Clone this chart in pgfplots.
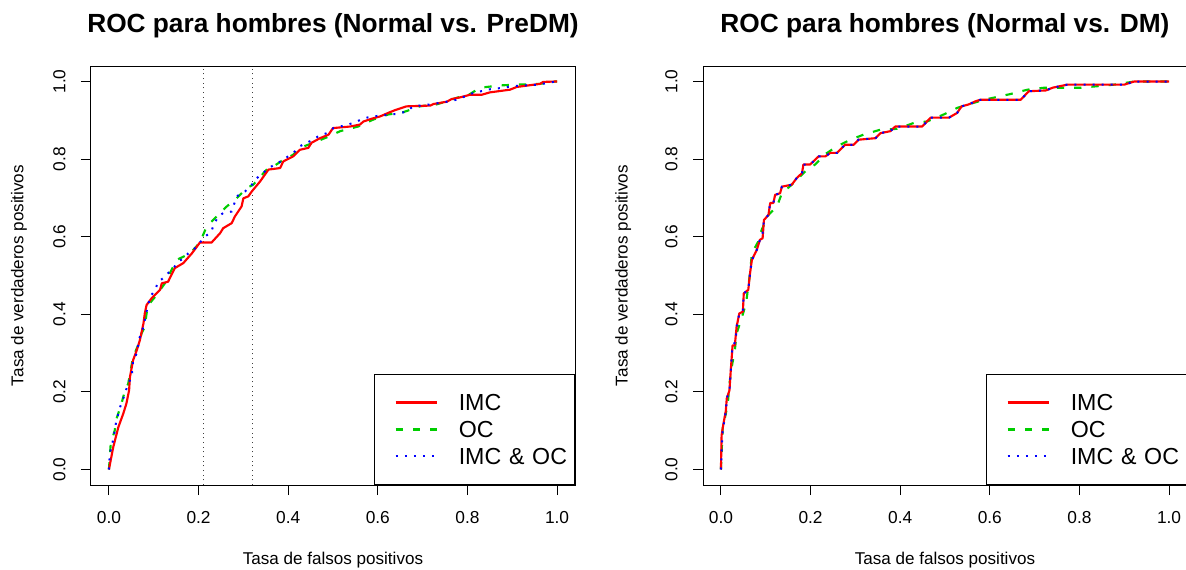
\documentclass[border=0pt]{standalone}
\usepackage{pgfplots}
\pgfplotsset{compat=1.18}
\usepackage{fontspec}
\setmainfont{Liberation Sans}
\definecolor{rred}{RGB}{255,0,0}
\definecolor{rgreen}{RGB}{0,205,0}
\definecolor{rblue}{RGB}{0,0,255}
\pgfplotsset{
 rocax/.style={
  scale only axis, width=363pt, height=314.25pt,
  xmin=-0.04,xmax=1.04,ymin=-0.04,ymax=1.04,
  xtick={0,0.2,0.4,0.6,0.8,1}, ytick={0,0.2,0.4,0.6,0.8,1},
  xticklabels={0.0,0.2,0.4,0.6,0.8,1.0}, yticklabels={0.0,0.2,0.4,0.6,0.8,1.0},
  tick align=outside, major tick length=7.5pt, xtick pos=left, ytick pos=left,
  xticklabel shift=9pt, yticklabel shift=8pt,
  axis line style={line width=0.75pt}, every tick/.style={black, line width=0.75pt},
  ticklabel style={font=\fontsize{13}{15}\selectfont},
  yticklabel style={rotate=90, anchor=south},
  label style={font=\fontsize{12.8}{15}\selectfont},
  title style={font=\bfseries\fontsize{19.7}{23}\selectfont, at={(axis description cs:0.5,1.078)}, anchor=center},
  xlabel style={at={(axis description cs:0.5,-0.179)}, anchor=center},
  xlabel={Tasa de falsos positivos},
  ylabel={Tasa de verdaderos positivos},
  legend cell align=left,
  legend style={at={(rel axis cs:1,0)}, anchor=south east, draw=black, line width=0.75pt, fill=white,
    font=\fontsize{17.4}{20}\selectfont, inner xsep=0pt, inner ysep=10.9pt, row sep=0pt, column sep=15.75pt,
    nodes={inner xsep=0pt, inner ysep=0pt, text height=16.36pt, text depth=3.9pt, text width=86.8pt}},
  legend image code/.code={\path (0pt,0pt); \draw[##1] (15pt,0pt) -- (45.75pt,0pt);},
 },
 imc/.style={rred, line width=1.6pt, line join=round},
 oc/.style={rgreen, line width=1.6pt, dash pattern=on 5.5pt off 7.5pt},
 both/.style={rblue, line width=1.5pt, dash pattern=on 1.5pt off 5.3pt},
}
\begin{document}
\begin{tikzpicture}
\useasboundingbox (0,0) rectangle (889.5pt,-426.75pt);
% ---------------- left panel
\begin{axis}[rocax, at={(68.25pt,-363.75pt)}, anchor=south west,
  title={ROC para hombres (Normal vs. PreDM)},
  ylabel style={at={(axis description cs:-0.149,0.5)}, anchor=center}]
\addplot[black!75, line width=0.6pt, dash pattern=on 0.75pt off 2.75pt, forget plot] coordinates {(0.21,-0.04)(0.21,1.04)};
\addplot[black!75, line width=0.6pt, dash pattern=on 0.75pt off 2.75pt, forget plot] coordinates {(0.32,-0.04)(0.32,1.04)};
\addplot[oc, forget plot] coordinates {(0,0)(0.004,0.066)(0.013,0.101)(0.017,0.131)(0.028,0.170)(0.036,0.204)(0.043,0.221)(0.047,0.247)(0.054,0.290)(0.065,0.320)(0.073,0.351)(0.080,0.368)(0.084,0.402)(0.088,0.424)(0.103,0.445)(0.125,0.480)(0.136,0.506)(0.151,0.540)(0.158,0.544)(0.181,0.557)(0.203,0.585)(0.218,0.626)(0.240,0.652)(0.263,0.678)(0.285,0.699)(0.307,0.725)(0.322,0.734)(0.352,0.773)(0.367,0.781)(0.389,0.798)(0.411,0.811)(0.426,0.829)(0.456,0.842)(0.486,0.856)(0.516,0.872)(0.556,0.884)(0.590,0.902)(0.623,0.915)(0.657,0.921)(0.694,0.936)(0.731,0.941)(0.754,0.949)(0.776,0.958)(0.806,0.968)(0.828,0.984)(0.873,0.990)(0.910,0.992)(0.962,0.994)(0.996,1)(1,1)};
\addplot[imc, forget plot] coordinates {(0,0)(0.0097,0.058)(0.021,0.109)(0.032,0.144)(0.039,0.170)(0.045,0.204)(0.047,0.239)(0.054,0.282)(0.062,0.307)(0.069,0.333)(0.077,0.376)(0.080,0.402)(0.084,0.424)(0.095,0.441)(0.114,0.463)(0.118,0.480)(0.132,0.484)(0.147,0.519)(0.166,0.532)(0.185,0.557)(0.196,0.574)(0.203,0.585)(0.229,0.585)(0.248,0.609)(0.255,0.622)(0.274,0.635)(0.281,0.652)(0.296,0.678)(0.300,0.699)(0.311,0.704)(0.319,0.717)(0.337,0.742)(0.356,0.773)(0.382,0.777)(0.389,0.794)(0.411,0.807)(0.426,0.824)(0.445,0.829)(0.452,0.842)(0.471,0.854)(0.490,0.863)(0.500,0.880)(0.538,0.884)(0.560,0.889)(0.568,0.897)(0.586,0.904)(0.605,0.910)(0.623,0.919)(0.638,0.926)(0.664,0.936)(0.717,0.938)(0.724,0.942)(0.754,0.948)(0.765,0.955)(0.783,0.959)(0.806,0.966)(0.832,0.966)(0.850,0.972)(0.895,0.979)(0.910,0.986)(0.962,0.994)(0.969,0.999)(0.996,1)(1,1)};
\addplot[both, forget plot] coordinates {(0,0)(0.002,0.041)(0.010,0.079)(0.016,0.122)(0.025,0.161)(0.032,0.183)(0.043,0.221)(0.051,0.239)(0.054,0.282)(0.062,0.299)(0.069,0.342)(0.077,0.368)(0.084,0.407)(0.092,0.445)(0.103,0.463)(0.110,0.484)(0.121,0.493)(0.132,0.506)(0.144,0.519)(0.155,0.536)(0.166,0.544)(0.177,0.557)(0.192,0.570)(0.203,0.585)(0.214,0.600)(0.229,0.613)(0.233,0.630)(0.244,0.652)(0.255,0.661)(0.274,0.665)(0.285,0.704)(0.304,0.717)(0.319,0.734)(0.330,0.751)(0.344,0.764)(0.356,0.777)(0.371,0.786)(0.389,0.798)(0.415,0.820)(0.426,0.833)(0.441,0.842)(0.456,0.850)(0.467,0.859)(0.486,0.867)(0.501,0.880)(0.516,0.884)(0.534,0.889)(0.553,0.897)(0.571,0.906)(0.590,0.910)(0.627,0.915)(0.646,0.917)(0.664,0.923)(0.679,0.936)(0.717,0.941)(0.754,0.948)(0.772,0.952)(0.791,0.960)(0.806,0.968)(0.824,0.973)(0.843,0.979)(0.880,0.984)(0.902,0.988)(0.940,0.991)(0.958,0.992)(0.977,0.996)(0.996,1)(1,1)};
\addlegendimage{imc}\addlegendentry{IMC}
\addlegendimage{oc}\addlegendentry{OC}
\addlegendimage{both}\addlegendentry{IMC \& OC}
\end{axis}
% ---------------- right panel
\begin{axis}[rocax, at={(527.25pt,-363.75pt)}, anchor=south west,
  title={ROC para hombres (Normal vs. DM)},
  ylabel style={at={(axis description cs:-0.165,0.5)}, anchor=center}]
\addplot[oc, forget plot] coordinates {(0,0)(0.004,0.109)(0.011,0.144)(0.016,0.178)(0.020,0.230)(0.024,0.264)(0.031,0.307)(0.035,0.351)(0.046,0.389)(0.056,0.428)(0.065,0.506)(0.069,0.557)(0.083,0.587)(0.091,0.618)(0.106,0.656)(0.125,0.678)(0.136,0.712)(0.158,0.734)(0.188,0.768)(0.210,0.786)(0.233,0.813)(0.259,0.833)(0.289,0.850)(0.318,0.863)(0.356,0.876)(0.393,0.878)(0.430,0.893)(0.460,0.897)(0.497,0.915)(0.527,0.932)(0.564,0.945)(0.587,0.953)(0.647,0.968)(0.684,0.979)(0.721,0.984)(0.803,0.984)(0.878,0.992)(0.922,1)(1,1)};
\addplot[imc, forget plot] coordinates {(0,0)(0.0015,0.088)(0.005,0.114)(0.011,0.152)(0.013,0.183)(0.019,0.204)(0.022,0.256)(0.026,0.320)(0.031,0.320)(0.035,0.368)(0.041,0.402)(0.049,0.407)(0.051,0.454)(0.061,0.463)(0.065,0.506)(0.069,0.540)(0.080,0.566)(0.087,0.592)(0.093,0.596)(0.096,0.643)(0.106,0.656)(0.110,0.687)(0.117,0.687)(0.121,0.708)(0.132,0.712)(0.136,0.729)(0.158,0.734)(0.169,0.751)(0.181,0.764)(0.184,0.786)(0.199,0.786)(0.218,0.807)(0.233,0.807)(0.244,0.816)(0.259,0.816)(0.270,0.829)(0.277,0.837)(0.296,0.837)(0.307,0.850)(0.345,0.854)(0.356,0.867)(0.378,0.872)(0.389,0.884)(0.449,0.884)(0.468,0.907)(0.509,0.907)(0.527,0.919)(0.537,0.936)(0.553,0.941)(0.568,0.949)(0.579,0.953)(0.669,0.953)(0.687,0.975)(0.725,0.977)(0.740,0.984)(0.773,0.992)(0.900,0.992)(0.922,1)(1,1)};
\addplot[both, forget plot] coordinates {(0,0)(0.002,0.060)(0.004,0.100)(0.011,0.150)(0.013,0.183)(0.019,0.204)(0.022,0.256)(0.026,0.320)(0.033,0.330)(0.035,0.368)(0.041,0.402)(0.049,0.407)(0.051,0.454)(0.061,0.463)(0.065,0.506)(0.069,0.540)(0.080,0.566)(0.087,0.592)(0.093,0.610)(0.096,0.643)(0.106,0.656)(0.110,0.687)(0.117,0.687)(0.121,0.708)(0.132,0.712)(0.136,0.729)(0.158,0.734)(0.169,0.751)(0.181,0.764)(0.184,0.786)(0.199,0.786)(0.218,0.807)(0.233,0.807)(0.244,0.816)(0.259,0.816)(0.270,0.829)(0.277,0.837)(0.296,0.837)(0.307,0.850)(0.345,0.854)(0.356,0.867)(0.378,0.872)(0.389,0.884)(0.449,0.884)(0.468,0.907)(0.509,0.907)(0.527,0.919)(0.537,0.936)(0.553,0.941)(0.568,0.949)(0.579,0.953)(0.669,0.953)(0.687,0.975)(0.725,0.977)(0.740,0.984)(0.773,0.992)(0.900,0.992)(0.922,1)(1,1)};
\addlegendimage{imc}\addlegendentry{IMC}
\addlegendimage{oc}\addlegendentry{OC}
\addlegendimage{both}\addlegendentry{IMC \& OC}
\end{axis}
\end{tikzpicture}
\end{document}
